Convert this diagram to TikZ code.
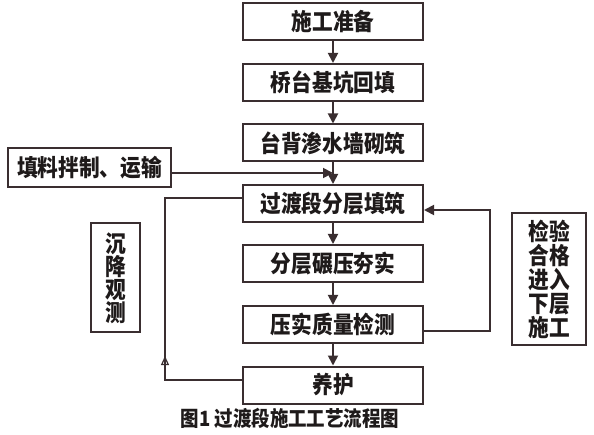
\documentclass[tikz,border=0pt]{standalone}
\usepackage{fontspec}
\setmainfont{Noto Sans CJK SC}
\newfontfamily\cjkn{Noto Sans CJK SC}[FakeStretch=0.88]
\usetikzlibrary{arrows.meta}
\definecolor{ln}{HTML}{3A2E30}
\definecolor{tx}{HTML}{1E1A1A}
\tikzset{
  box/.style={draw=ln, line width=2pt, fill=white, text=tx, inner sep=0pt,
    font=\cjkn\fontsize{23.5}{23}\selectfont\bfseries},
  mainbox/.style={box, minimum width=180pt, minimum height=37pt},
  conn/.style={draw=ln, line width=1.8pt},
  arr/.style={conn, -{Triangle[width=10pt,length=10pt]}},
}
\begin{document}
\begin{tikzpicture}[x=1pt,y=-1pt]
\useasboundingbox (0,0) rectangle (594,435);
\node[mainbox] (b1) at (333,22) {施工准备};
\node[mainbox] (b2) at (333,82.5) {桥台基坑回填};
\node[mainbox] (b3) at (333,143) {台背渗水墙砌筑};
\node[mainbox] (b4) at (333,203.5) {过渡段分层填筑};
\node[mainbox] (b5) at (333,263.5) {分层碾压夯实};
\node[mainbox] (b6) at (333,324.5) {压实质量检测};
\node[mainbox] (b7) at (333,385) {养护};
\node[box, minimum width=163pt, minimum height=39pt] (fill) at (89.5,167.5) {填料拌制、运输};
\node[box, minimum width=49pt, minimum height=109pt, align=center] (obs) at (115.5,278) {沉\\降\\观\\测};
\node[box, minimum width=74pt, minimum height=132pt, align=center, font=\cjkn\fontsize{23.5}{24}\selectfont\bfseries] (chk) at (549,279) {检验\\合格\\进入\\下层\\施工};
\node[text=tx, font=\cjkn\fontsize{21}{22}\selectfont\bfseries] (cap) at (290,418) {图1 过渡段施工工艺流程图};

\draw[arr] (b1.south) -- (b2.north);
\draw[arr] (b2.south) -- (b3.north);
\draw[arr] (b3.south) -- (b4.north);
\draw[arr] (b4.south) -- (b5.north);
\draw[arr] (b5.south) -- (b6.north);
\draw[arr] (b6.south) -- (b7.north);

\coordinate (fe) at (fill.east |- 0,173);
\coordinate (fj) at (b3.south |- 0,173);
\draw[arr] (fe) -- (fj);

% left loop from 养护 back to 过渡段分层填筑
\coordinate (l1) at (b7.west |- 0,380);
\coordinate (l2) at (165,380);
\coordinate (l3) at (165,198);
\coordinate (l4) at (b4.west |- 0,198);
\coordinate (l5) at (165,356);
\draw[conn] (l1) -- (l2) -- (l3) -- (l4);
\draw[conn, line width=1.2pt, -{Triangle[open,width=8pt,length=9pt]}] (l2) -- (l5);

% right loop from 压实质量检测 back to 过渡段分层填筑
\coordinate (r1) at (b6.east |- 0,331);
\coordinate (r2) at (490,331);
\coordinate (r3) at (490,210);
\coordinate (r4) at (b4.east |- 0,210);
\draw[arr] (r1) -- (r2) -- (r3) -- (r4);
\end{tikzpicture}
\end{document}
